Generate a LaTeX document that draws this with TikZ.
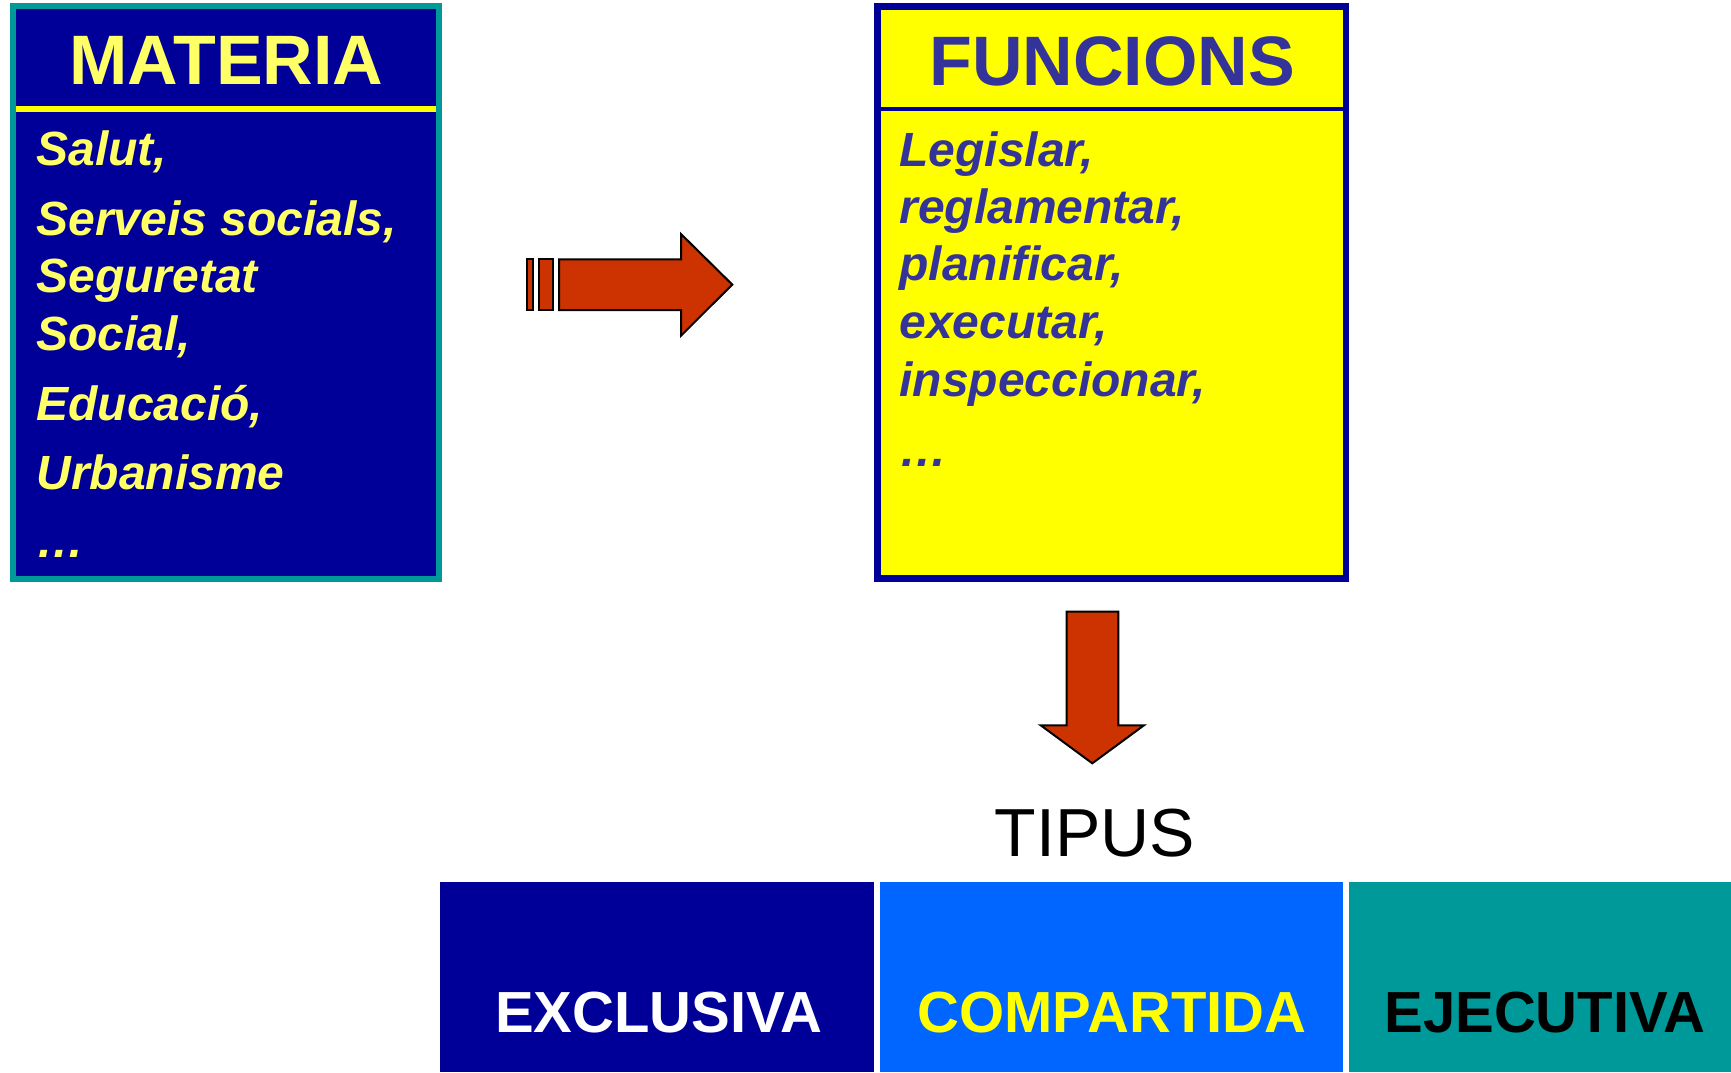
\documentclass[tikz,border=0pt]{standalone}
\usepackage{fontspec}
\setmainfont{Liberation Sans}
\definecolor{blauFosc}{HTML}{000099}
\definecolor{blauClar}{HTML}{0066FF}
\definecolor{verdBlau}{HTML}{009999}
\definecolor{groc}{HTML}{FFFF00}
\definecolor{grocClar}{HTML}{FFFF66}
\definecolor{blauText}{HTML}{333399}
\definecolor{vermellFletxa}{HTML}{CC3300}
\newcommand{\materiaX}{36}
\newcommand{\funcionsX}{899}
\newcommand{\tipusDalt}{882.3}
\newcommand{\tipusBase}{1032.7}
\tikzset{
	titol/.style={anchor=base,inner sep=0pt,font=\fontsize{35}{40}\selectfont\bfseries},
	element/.style={anchor=base west,inner sep=0pt,font=\fontsize{24}{28}\selectfont\bfseries\itshape},
	tipusText/.style={anchor=base,inner sep=0pt,font=\fontsize{29}{33}\selectfont\bfseries},
	fletxa/.style={fill=vermellFletxa,draw=black,line width=1pt,line join=miter}
}

\begin{document}
\begin{tikzpicture}[x=0.5pt,y=-0.5pt]
	\useasboundingbox (0,0) rectangle (1731,1072);
	% caixa de la materia
	\draw[verdBlau,fill=blauFosc,line width=3pt] (13,6.3) rectangle (439,578.5);
	\draw[groc,line width=3pt] (16,109)--(436,109);
	\node[titol,grocClar] (materia) at (226.5,84) {MATERIA};
	\node[element,grocClar] (salut) at (\materiaX,165) {Salut,};
	\node[element,grocClar] (serveis) at (\materiaX,235) {Serveis socials,};
	\node[element,grocClar] (seguretat) at (\materiaX,292) {Seguretat};
	\node[element,grocClar] (social) at (\materiaX,350) {Social,};
	\node[element,grocClar] (educacio) at (\materiaX,420) {Educació,};
	\node[element,grocClar] (urbanisme) at (\materiaX,489) {Urbanisme};
	\node[element,grocClar] (materiaEtc) at (\materiaX,557) {…};
	% caixa de les funcions
	\draw[blauFosc,fill=groc,line width=3.2pt] (877.5,6.3) rectangle (1346,578.5);
	\draw[blauFosc,line width=1.7pt] (881,109)--(1343,109);
	\node[titol,blauText] (funcions) at (1112,85) {FUNCIONS};
	\node[element,blauText] (legislar) at (\funcionsX,166) {Legislar,};
	\node[element,blauText] (reglamentar) at (\funcionsX,223) {reglamentar,};
	\node[element,blauText] (planificar) at (\funcionsX,280) {planificar,};
	\node[element,blauText] (executar) at (\funcionsX,338) {executar,};
	\node[element,blauText] (inspeccionar) at (\funcionsX,396) {inspeccionar,};
	\node[element,blauText] (funcionsEtc) at (\funcionsX,466) {…};
	% fletxa cap a la dreta
	\draw[fletxa] (526.7,259.3) rectangle (533.3,310);
	\draw[fletxa] (539.3,259.3) rectangle (552.7,310);
	\draw[fletxa] (559,259.3)--(681,259.3)--(681,234)--(732.3,284.6)--(681,335.7)--(681,310)--(559,310)--cycle;
	% fletxa cap avall
	\draw[fletxa] (1066.7,611.7)--(1118.3,611.7)--(1118.3,725.3)--(1144,725.3)--(1092.3,763.3)--(1040.7,725.3)--(1066.7,725.3)--cycle;
	\node[anchor=base,inner sep=0pt,font=\fontsize{34}{40}\selectfont] (tipus) at (1095,856) {TIPUS};
	% tipus de competencia
	\fill[blauFosc] (440,\tipusDalt) rectangle (874.3,1072);
	\fill[blauClar] (880,\tipusDalt) rectangle (1342.7,1072);
	\fill[verdBlau] (1349.3,\tipusDalt) rectangle (1731,1072);
	\node[tipusText,white] (exclusiva) at (659,\tipusBase) {EXCLUSIVA};
	\node[tipusText,groc] (compartida) at (1112,\tipusBase) {COMPARTIDA};
	\node[tipusText,black] (ejecutiva) at (1545,\tipusBase) {EJECUTIVA};
\end{tikzpicture}
\end{document}
